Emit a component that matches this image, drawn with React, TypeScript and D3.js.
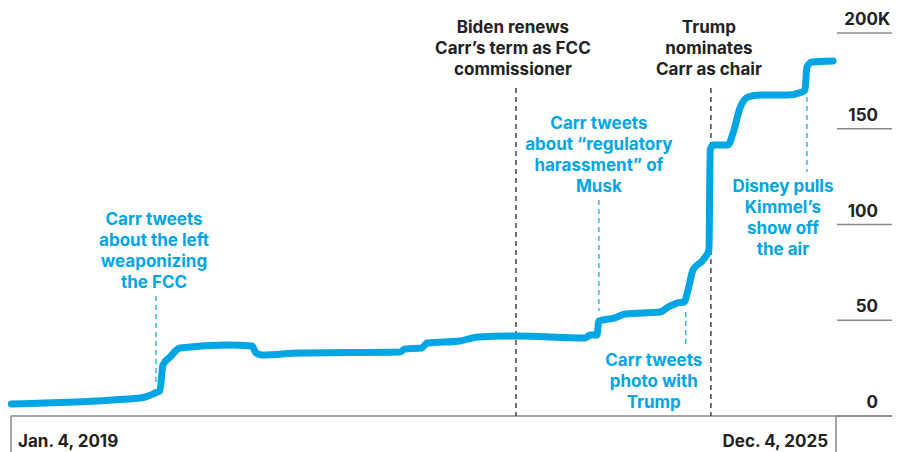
import React from "react";
import * as d3 from "d3";

const seriesDates = [
  "2019-01-05", "2020-02-03", "2020-02-27", "2020-03-20", "2020-04-04", "2020-04-13",
  "2020-05-05", "2020-06-04", "2020-10-29", "2021-01-11", "2021-01-23", "2021-02-10",
  "2021-06-07", "2022-04-09", "2022-04-24", "2022-06-15", "2022-07-01", "2022-10-10",
  "2022-12-04", "2023-03-30", "2023-10-27", "2023-11-12", "2023-12-03", "2023-12-09",
  "2024-01-27", "2024-02-27", "2024-06-13", "2024-07-08", "2024-08-04", "2024-08-26",
  "2024-09-07", "2024-09-22", "2024-10-23", "2024-11-10", "2024-11-14", "2024-11-22",
  "2025-01-07", "2025-01-23", "2025-02-13", "2025-03-10", "2025-04-15", "2025-07-07",
  "2025-08-22", "2025-08-31", "2025-09-06", "2025-09-22", "2025-11-25",
];
const seriesValues = [
  6.3, 9.4, 10.4, 12.0, 13.1, 26.6,
  30.8, 35.5, 37.1, 36.6, 32.9, 31.9,
  32.9, 33.4, 35.0, 35.5, 38.1, 39.2,
  41.3, 41.8, 40.7, 42.3, 42.3, 49.6,
  51.2, 53.3, 54.3, 56.9, 59.0, 59.5,
  65.8, 76.2, 81.5, 86.7, 138.9, 141.5,
  141.5, 147.8, 160.8, 166.6, 167.6, 167.6,
  169.2, 170.2, 182.2, 184.9, 185.4,
];

const yTicks = [0, 50, 100, 150, 200];
const yTickLabels = ["0", "50", "100", "150", "200"];
const yTickSuffixes = ["", "", "", "", "K"];
const xDomain = ["2019-01-04", "2025-12-04"];
const xLabels = ["Jan. 4, 2019", "Dec. 4, 2025"];

const eventDates = ["2020-03-23", "2023-03-30", "2023-12-09", "2024-08-31", "2024-11-16", "2025-09-06"];
const eventKinds = ["blue", "dark", "blue", "blue", "dark", "blue"];
const eventLabels = [
  ["Carr tweets", "about the left", "weaponizing", "the FCC"],
  ["Biden renews", "Carr\u2019s term as FCC", "commissioner"],
  ["Carr tweets", "about \u201cregulatory", "harassment\u201d of", "Musk"],
  ["Carr tweets", "photo with", "Trump"],
  ["Trump", "nominates", "Carr as chair"],
  ["Disney pulls", "Kimmel\u2019s", "show off", "the air"],
];
// layout: [label center x offset, first baseline y, dash top, dash bottom]
const eventLayout = [
  [-2, 225, 296, 384],
  [-3, 33, 88, 416],
  [0, 129, 200, 311],
  [-32, 366, 312, 348],
  [-2, 33, 88, 416],
  [-24, 192, 97, 172],
];

const BLUE = "#00A5E3";
const DASH_BLUE = "#3BB3E6";
const DARK = "#222222";
const GRAY = "#888888";
const FONT = "Inter, 'Liberation Sans', Arial, sans-serif";

export default function App() {
  const W = 904, H = 452;
  const parse = d3.timeParse("%Y-%m-%d");
  const x = d3.scaleTime().domain(xDomain.map((d) => parse(d)!)).range([11, 836]);
  const y = d3.scaleLinear().domain([0, 200]).range([416, 33]);
  const data = seriesDates.map((d, i) => ({ date: parse(d)!, value: seriesValues[i] }));
  const line = d3
    .line<{ date: Date; value: number }>()
    .x((d) => x(d.date))
    .y((d) => y(d.value))
    .curve(d3.curveMonotoneX);

  return (
    <svg width={W} height={H} style={{ position: "absolute", left: 0, top: 0 }} fontFamily={FONT}>
      <rect width={W} height={H} fill="#fff" />
      {yTicks.map((t, i) => (
        <g key={t}>
          <line x1={837} x2={892} y1={y(t)} y2={y(t)} stroke={GRAY} strokeWidth={1.5} />
          <text x={878} y={y(t) - 8} textAnchor="end" fontSize={17} fontWeight="bold" fill={DARK}>
            {yTickLabels[i]}
          </text>
          {yTickSuffixes[i] && (
            <text x={878} y={y(t) - 8} textAnchor="start" fontSize={17} fontWeight="bold" fill={DARK}>
              {yTickSuffixes[i]}
            </text>
          )}
        </g>
      ))}
      <line x1={11} x2={892} y1={y(0)} y2={y(0)} stroke={GRAY} strokeWidth={1.5} />
      <line x1={x(parse(xDomain[0])!)} x2={x(parse(xDomain[0])!)} y1={y(0)} y2={H} stroke={GRAY} strokeWidth={1.5} />
      <line x1={x(parse(xDomain[1])!)} x2={x(parse(xDomain[1])!)} y1={y(0)} y2={H} stroke={GRAY} strokeWidth={1.5} />
      <text x={x(parse(xDomain[0])!) + 7} y={447} fontSize={17} fontWeight="bold" fill={DARK}>
        {xLabels[0]}
      </text>
      <text x={x(parse(xDomain[1])!) - 8} y={447} textAnchor="end" fontSize={17} fontWeight="bold" fill={DARK}>
        {xLabels[1]}
      </text>
      {eventDates.map((d, i) => {
        const ex = x(parse(d)!);
        const [, , t, b] = eventLayout[i];
        const blue = eventKinds[i] === "blue";
        return (
          <line
            key={"e" + i}
            x1={ex}
            x2={ex}
            y1={t}
            y2={b}
            stroke={blue ? DASH_BLUE : "#444"}
            strokeWidth={1.5}
            strokeDasharray="5,4"
          />
        );
      })}
      <path d={line(data) || ""} fill="none" stroke={BLUE} strokeWidth={7} strokeLinecap="round" strokeLinejoin="round" />
      {eventDates.map((d, i) => {
        const ex = x(parse(d)!);
        const [dx, by] = eventLayout[i];
        const blue = eventKinds[i] === "blue";
        return (
          <text key={"t" + i} textAnchor="middle" fontSize={17} fontWeight="bold" fill={blue ? BLUE : DARK}>
            {eventLabels[i].map((s, j) => (
              <tspan key={j} x={ex + dx} y={by + j * 21}>
                {s}
              </tspan>
            ))}
          </text>
        );
      })}
    </svg>
  );
}
